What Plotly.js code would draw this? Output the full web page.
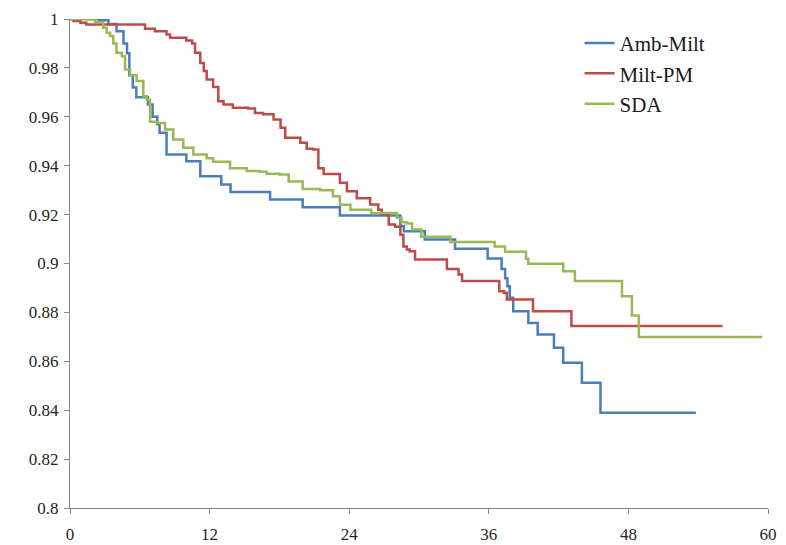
<!DOCTYPE html>
<html>
<head>
<meta charset="utf-8">
<script src="https://cdn.plot.ly/plotly-3.0.1.min.js"></script>
<style>html,body{margin:0;padding:0;background:#fff;}#chart{width:786px;height:545px;}</style>
</head>
<body>
<div id="chart"></div>
<script>
const seriesNames = ["Amb-Milt", "Milt-PM", "SDA"];

const tAmbMilt = [0, 2.5, 3.3, 4.0, 4.6, 4.9, 5.1, 5.4, 5.7, 6.7, 7.1, 7.5, 7.7, 8.3, 10.0, 11.2, 13.0, 13.8, 17.2, 20.0, 23.2, 28.4, 28.7, 30.5, 33.1, 35.9, 37.1, 37.4, 37.6, 37.8, 38.1, 39.4, 40.2, 41.6, 42.4, 44.0, 45.6, 53.8];
const sAmbMilt = [1, 0.9995, 0.998, 0.995, 0.99, 0.986, 0.977, 0.972, 0.968, 0.965, 0.96, 0.957, 0.9535, 0.9446, 0.9418, 0.9357, 0.9323, 0.9292, 0.9262, 0.923, 0.9196, 0.9153, 0.9132, 0.9098, 0.906, 0.902, 0.8978, 0.894, 0.8907, 0.886, 0.8805, 0.8757, 0.871, 0.8655, 0.8594, 0.8512, 0.839, 0.839];

const tMiltPM = [0, 0.3, 0.9, 1.4, 6.45, 7.3, 8.3, 8.6, 10.0, 10.5, 10.75, 11.2, 11.5, 11.75, 12.3, 12.75, 13.2, 14.0, 15.3, 15.9, 16.6, 17.5, 18.1, 18.5, 19.8, 20.35, 20.9, 21.35, 21.8, 23.2, 23.8, 24.65, 25.8, 26.5, 26.8, 27.4, 27.95, 28.4, 28.66, 28.95, 29.2, 29.66, 32.4, 33.4, 33.7, 36.9, 37.3, 37.55, 39.8, 43.1, 56.1];
const sMiltPM = [1, 0.9992, 0.9985, 0.9977, 0.996, 0.995, 0.9937, 0.9923, 0.9912, 0.990, 0.9862, 0.982, 0.9787, 0.9753, 0.9722, 0.9664, 0.965, 0.9637, 0.9634, 0.9616, 0.961, 0.9589, 0.9555, 0.9514, 0.9494, 0.9469, 0.9466, 0.939, 0.9366, 0.933, 0.9296, 0.9267, 0.9241, 0.922, 0.92, 0.916, 0.915, 0.9118, 0.907, 0.9057, 0.905, 0.9016, 0.8978, 0.8955, 0.8928, 0.8887, 0.888, 0.8853, 0.8805, 0.8744, 0.8744];

const tSDA = [0, 1.5, 2.15, 2.86, 3.15, 3.44, 3.72, 4.0, 4.45, 4.73, 5.16, 5.73, 6.3, 6.6, 6.88, 7.45, 8.17, 8.88, 9.74, 10.6, 11.75, 12.3, 13.76, 15.2, 16.3, 16.9, 18.0, 18.8, 20.0, 21.5, 22.6, 23.2, 24.1, 25.9, 28.1, 28.5, 28.95, 29.4, 30.2, 32.7, 36.5, 37.4, 39.2, 39.4, 42.4, 43.4, 47.45, 48.3, 48.9, 59.5];
const sSDA = [1, 0.9998, 0.9987, 0.9964, 0.9944, 0.993, 0.990, 0.9862, 0.9848, 0.9793, 0.977, 0.9746, 0.9684, 0.967, 0.958, 0.9575, 0.9548, 0.9507, 0.9473, 0.9446, 0.943, 0.9416, 0.939, 0.9378, 0.9375, 0.9367, 0.9364, 0.9335, 0.9305, 0.930, 0.9275, 0.924, 0.922, 0.9207, 0.9187, 0.9169, 0.9164, 0.9139, 0.9109, 0.9088, 0.907, 0.9048, 0.9019, 0.8999, 0.8968, 0.8928, 0.8866, 0.8787, 0.8699, 0.8699];

const xTicks = [0, 12, 24, 36, 48, 60];
const yTicks = [0.8, 0.82, 0.84, 0.86, 0.88, 0.9, 0.92, 0.94, 0.96, 0.98, 1];
const yTickText = ["0.8", "0.82", "0.84", "0.86", "0.88", "0.9", "0.92", "0.94", "0.96", "0.98", "1"];

const colors = ["#4A7EBB", "#BE4B48", "#98B954"];
const xs = [tAmbMilt, tMiltPM, tSDA];
const ys = [sAmbMilt, sMiltPM, sSDA];

const data = seriesNames.map((n, i) => ({
  x: xs[i], y: ys[i], name: n, type: "scatter", mode: "lines",
  line: {color: colors[i], width: 2.5, shape: "hv"}
}));

const serif = "Times New Roman, Liberation Serif, DejaVu Serif, serif";

const axisCommon = {
  showgrid: false, zeroline: false, showline: true, linecolor: "#868686", linewidth: 1,
  ticks: "outside", ticklen: 5, tickcolor: "#868686",
  tickfont: {family: serif, size: 17, color: "#262626"}
};

const layout = {
  width: 786, height: 545,
  font: {family: serif},
  margin: {l: 70, r: 18, t: 19, b: 37},
  paper_bgcolor: "#fff", plot_bgcolor: "#fff",
  showlegend: true,
  legend: {x: 0.73, y: 0.992, xanchor: "left", yanchor: "top",
    font: {family: serif, size: 21, color: "#1a1a1a"},
    bgcolor: "rgba(0,0,0,0)"},
  xaxis: Object.assign({}, axisCommon, {range: [0, 60], tickvals: xTicks, ticktext: xTicks.map(String), ticklabelstandoff: 6}),
  yaxis: Object.assign({}, axisCommon, {range: [0.8, 1], tickvals: yTicks, ticktext: yTickText, ticklabelstandoff: 2})
};

Plotly.newPlot("chart", data, layout, {displayModeBar: false, staticPlot: true});
</script>
</body>
</html>
